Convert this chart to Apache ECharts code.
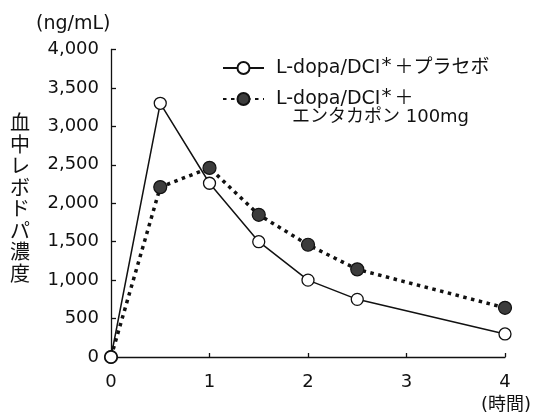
<!DOCTYPE html>
<html><head><meta charset="utf-8">
<script src="https://cdn.jsdelivr.net/npm/echarts@6/dist/echarts.min.js"></script>
<style>html,body{margin:0;padding:0;background:#fff}#c{width:542px;height:417px}</style>
</head><body><div id="c"></div>
<script>
const hours = [0, 0.5, 1, 1.5, 2, 2.5, 4];
const placebo = [0, 3300, 2260, 1500, 1000, 750, 300];
const entacapone = [0, 2210, 2460, 1850, 1460, 1140, 640];
const xTicks = [0, 1, 2, 3, 4];
const yTicks = [0, 500, 1000, 1500, 2000, 2500, 3000, 3500, 4000];
const seriesNames = ['L-dopa/DCI*＋プラセボ', 'L-dopa/DCI*＋エンタカポン 100mg'];
const yName = '血中レボドパ濃度';

const FONT = 'DejaVu Sans, Noto Sans CJK JP, sans-serif';
const chart = echarts.init(document.getElementById('c'), null, {renderer: 'canvas'});
const pair = (xs, ys) => xs.map((x, i) => [x, ys[i]]);

const legendRich = {
  a: {fontFamily: FONT, fontSize: 19, color: '#111', lineHeight: 20},
  s: {fontFamily: FONT, fontSize: 20, color: '#111', padding: [0, 3, 4, 1], lineHeight: 20},
  j: {fontFamily: FONT, fontSize: 19, color: '#111', lineHeight: 20}
};

chart.setOption({
  animation: false,
  grid: {left: 111, right: 37, top: 49.5, bottom: 60},
  xAxis: {
    type: 'value', min: 0, max: 4, interval: 1,
    axisLine: {lineStyle: {color: '#111', width: 1.3}},
    axisTick: {inside: true, length: 4, lineStyle: {color: '#111', width: 1.3}},
    splitLine: {show: false},
    axisLabel: {margin: 16, fontFamily: FONT, fontSize: 18, color: '#111',
      formatter: v => xTicks.includes(v) ? String(v) : ''}
  },
  yAxis: {
    type: 'value', min: 0, max: 4000, interval: 500,
    axisLine: {show: true, lineStyle: {color: '#111', width: 1.3}},
    axisTick: {show: true, inside: true, length: 5, lineStyle: {color: '#111', width: 1.3}},
    splitLine: {show: false},
    axisLabel: {margin: 12, fontFamily: FONT, fontSize: 18, color: '#111',
      formatter: v => yTicks.includes(v) ? v.toLocaleString('en-US') : ''}
  },
  legend: [
    {
      data: [seriesNames[0]], left: 222, top: 56, itemWidth: 41, itemHeight: 15, itemGap: 0,
      padding: 0, textStyle: {padding: [0, 0, 0, 7], rich: legendRich},
      formatter: () => '{a|L-dopa/DCI}{s|*}{j|＋プラセボ}'
    },
    {
      data: [seriesNames[1]], left: 222, top: 87, itemWidth: 41, itemHeight: 15, itemGap: 0,
      padding: 0, textStyle: {padding: [0, 0, 0, 7], rich: legendRich},
      formatter: () => '{a|L-dopa/DCI}{s|*}{j|＋}'
    }
  ],
  graphic: [
    {type: 'text', left: 292, top: 108, style: {text: 'エンタカポン 100mg', font: '18px ' + FONT, fill: '#111'}},
    {type: 'text', left: 36, top: 15, style: {text: '(ng/mL)', font: '19px ' + FONT, fill: '#111'}},
    {type: 'text', left: 481, top: 396, style: {text: '(時間)', font: '18px ' + FONT, fill: '#111'}},
    {type: 'text', left: 10, top: 112, style: {text: yName.split('').join('\n'), font: '20px Noto Sans CJK JP', lineHeight: 21.5, fill: '#111'}}
  ],
  series: [
    {
      name: seriesNames[0], type: 'line', data: pair(hours, placebo),
      symbol: 'circle', symbolSize: 12, clip: false, z: 3,
      lineStyle: {color: '#111', width: 1.5},
      itemStyle: {color: '#fff', borderColor: '#111', borderWidth: 1.3}
    },
    {
      name: seriesNames[1], type: 'line', data: pair(hours, entacapone),
      symbol: 'circle', symbolSize: 13, clip: false, z: 2,
      lineStyle: {color: '#111', width: 3.5, type: [3.5, 4.5], cap: 'butt'},
      itemStyle: {color: '#3c3c3c', borderColor: '#111', borderWidth: 1.2}
    }
  ]
});
</script></body></html>
